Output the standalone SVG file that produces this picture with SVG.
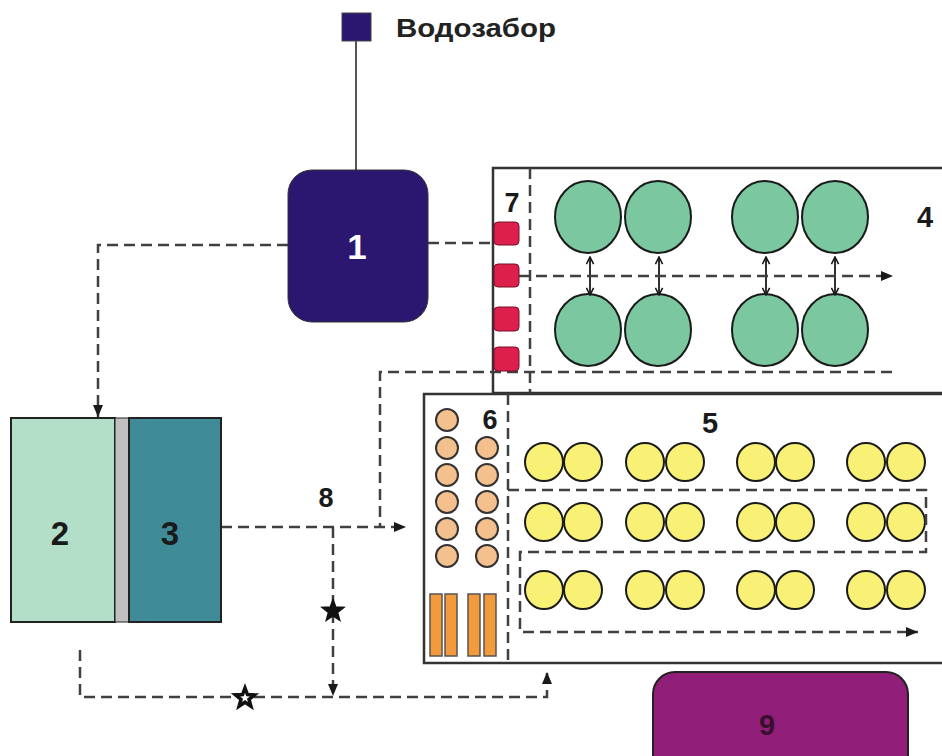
<svg xmlns="http://www.w3.org/2000/svg" width="942" height="756" viewBox="0 0 942 756">
<style>
.lbl{font-family:"Liberation Sans",Arial,sans-serif;font-weight:bold;fill:#1a1a1a;text-anchor:middle}
.dash{fill:none;stroke:#404040;stroke-width:2.5;stroke-dasharray:11,6}
.edge{fill:#fff;stroke:#333;stroke-width:2.5}
.green{fill:#7bc7a0;stroke:#1a1a1a;stroke-width:2}
.yel{fill:#f8f176;stroke:#1a1a1a;stroke-width:2}
.peach{fill:#f4c08e;stroke:#333;stroke-width:2}
.bar{fill:#f29a3c;stroke:#555;stroke-width:1.5}
.red{fill:#dc1f4b;stroke:#7a1028;stroke-width:1}
.dbl{stroke:#1a1a1a;stroke-width:1.8;fill:none;marker-start:url(#open);marker-end:url(#open)}
</style>
<defs>
<marker id="arr" viewBox="0 0 12 10" refX="12" refY="5" markerWidth="12" markerHeight="10" markerUnits="userSpaceOnUse" orient="auto">
<path d="M0,0 L12,5 L0,10 Z" fill="#1a1a1a"/>
</marker>
<marker id="open" viewBox="0 0 10 10" refX="9" refY="5" markerWidth="9" markerHeight="9" markerUnits="userSpaceOnUse" orient="auto-start-reverse">
<path d="M1,1 L9,5 L1,9" fill="none" stroke="#1a1a1a" stroke-width="1.8"/>
</marker>
<path id="star" d="M0,-10 L2.47,-3.4 L9.51,-3.09 L3.99,1.3 L5.88,8.09 L0,4.2 L-5.88,8.09 L-3.99,1.3 L-9.51,-3.09 L-2.47,-3.4 Z" stroke="#111" stroke-linejoin="miter"/>
</defs>

<g id="intake">
<rect x="342" y="13" width="29" height="28" fill="#2b1670" stroke="#444" stroke-width="1"/>
<text x="396" y="37" font-family="Liberation Sans,Arial,sans-serif" font-weight="bold" font-size="26" fill="#222" textLength="160" lengthAdjust="spacingAndGlyphs">Водозабор</text>
</g>

<g id="box4">
<rect x="493" y="168" width="470" height="225" class="edge"/>
<line x1="530" y1="168" x2="530" y2="393" class="dash"/>
<text x="512" y="212" class="lbl" font-size="27">7</text>
<text x="925" y="227" class="lbl" font-size="29">4</text>
<ellipse cx="588" cy="217" rx="33" ry="36" class="green"/>
<ellipse cx="658" cy="217" rx="33" ry="36" class="green"/>
<ellipse cx="765" cy="217" rx="33" ry="36" class="green"/>
<ellipse cx="835" cy="217" rx="33" ry="36" class="green"/>
<ellipse cx="588" cy="330" rx="33" ry="36" class="green"/>
<ellipse cx="658" cy="330" rx="33" ry="36" class="green"/>
<ellipse cx="765" cy="330" rx="33" ry="36" class="green"/>
<ellipse cx="835" cy="330" rx="33" ry="36" class="green"/>
<line x1="590" y1="257" x2="590" y2="295" class="dbl"/>
<line x1="659" y1="257" x2="659" y2="295" class="dbl"/>
<line x1="766" y1="257" x2="766" y2="295" class="dbl"/>
<line x1="835" y1="257" x2="835" y2="295" class="dbl"/>
</g>

<g id="box5">
<rect x="424" y="394" width="540" height="269" class="edge"/>
<line x1="508" y1="394" x2="508" y2="663" class="dash"/>
<text x="490" y="429" class="lbl" font-size="27">6</text>
<text x="710" y="433" class="lbl" font-size="29">5</text>
<circle cx="447" cy="420" r="11" class="peach"/>
<circle cx="447" cy="448" r="11" class="peach"/>
<circle cx="447" cy="475" r="11" class="peach"/>
<circle cx="447" cy="502" r="11" class="peach"/>
<circle cx="447" cy="529" r="11" class="peach"/>
<circle cx="447" cy="556" r="11" class="peach"/>
<circle cx="487" cy="448" r="11" class="peach"/>
<circle cx="487" cy="475" r="11" class="peach"/>
<circle cx="487" cy="502" r="11" class="peach"/>
<circle cx="487" cy="529" r="11" class="peach"/>
<circle cx="487" cy="556" r="11" class="peach"/>
<rect x="430" y="594" width="12" height="62" class="bar"/>
<rect x="445" y="594" width="12" height="62" class="bar"/>
<rect x="468" y="594" width="12" height="62" class="bar"/>
<rect x="484" y="594" width="12" height="62" class="bar"/>
<g id="yellow">
<circle cx="544" cy="462" r="19" class="yel"/><circle cx="583" cy="462" r="19" class="yel"/>
<circle cx="645" cy="462" r="19" class="yel"/><circle cx="685" cy="462" r="19" class="yel"/>
<circle cx="756" cy="462" r="19" class="yel"/><circle cx="795" cy="462" r="19" class="yel"/>
<circle cx="866" cy="462" r="19" class="yel"/><circle cx="906" cy="462" r="19" class="yel"/>
<circle cx="544" cy="522" r="19" class="yel"/><circle cx="583" cy="522" r="19" class="yel"/>
<circle cx="645" cy="522" r="19" class="yel"/><circle cx="685" cy="522" r="19" class="yel"/>
<circle cx="756" cy="522" r="19" class="yel"/><circle cx="795" cy="522" r="19" class="yel"/>
<circle cx="866" cy="522" r="19" class="yel"/><circle cx="906" cy="522" r="19" class="yel"/>
<circle cx="544" cy="590" r="19" class="yel"/><circle cx="583" cy="590" r="19" class="yel"/>
<circle cx="645" cy="590" r="19" class="yel"/><circle cx="685" cy="590" r="19" class="yel"/>
<circle cx="756" cy="590" r="19" class="yel"/><circle cx="795" cy="590" r="19" class="yel"/>
<circle cx="866" cy="590" r="19" class="yel"/><circle cx="906" cy="590" r="19" class="yel"/>
</g>
</g>

<g id="connectors">
<line x1="356" y1="41" x2="356" y2="170" stroke="#555" stroke-width="2"/>
<polyline points="288,245 98,245 98,417" class="dash" marker-end="url(#arr)"/>
<line x1="428" y1="243" x2="494" y2="243" class="dash"/>
<line x1="519" y1="276" x2="893" y2="276" class="dash" marker-end="url(#arr)"/>
<polyline points="892,372 380,372 380,527" class="dash"/>
<line x1="221" y1="527" x2="406" y2="527" class="dash" marker-end="url(#arr)"/>
<line x1="333" y1="527" x2="333" y2="696" class="dash" marker-end="url(#arr)"/>
<polyline points="80,650 80,697 547,697 547,672" class="dash" marker-end="url(#arr)"/>
<polyline points="508,490 926,490 926,552 520,552 520,632 918,632" class="dash" marker-end="url(#arr)"/>
<use href="#star" x="333" y="611" fill="#111" stroke-width="2.5"/>
<use href="#star" x="245" y="698" fill="#fff" stroke-width="3.5"/>
</g>

<g id="node7">
<rect x="494" y="222" width="25" height="23" rx="4" class="red"/>
<rect x="494" y="264" width="25" height="23" rx="4" class="red"/>
<rect x="494" y="307" width="25" height="24" rx="4" class="red"/>
<rect x="494" y="347" width="25" height="24" rx="4" class="red"/>
</g>

<g id="node1">
<rect x="288" y="170" width="140" height="152" rx="24" fill="#2b1670" stroke="#333" stroke-width="1"/>
<text x="357" y="259" class="lbl" font-size="35" style="fill:#fff">1</text>
</g>

<g id="node23">
<rect x="11" y="418" width="104" height="204" fill="#b3dfc8" stroke="#222" stroke-width="2"/>
<rect x="115" y="418" width="14" height="204" fill="#c0c0c0" stroke="#222" stroke-width="1"/>
<rect x="129" y="418" width="92" height="204" fill="#3f8c98" stroke="#222" stroke-width="2"/>
<text x="60" y="545" class="lbl" font-size="33">2</text>
<text x="170" y="545" class="lbl" font-size="33">3</text>
</g>

<g id="node8">
<text x="326" y="507" class="lbl" font-size="27">8</text>
</g>

<g id="node9">
<rect x="653" y="672" width="255" height="110" rx="22" fill="#911e78" stroke="#222" stroke-width="2"/>
<text x="767" y="735" class="lbl" font-size="29" style="fill:#3a1030">9</text>
</g>
</svg>
